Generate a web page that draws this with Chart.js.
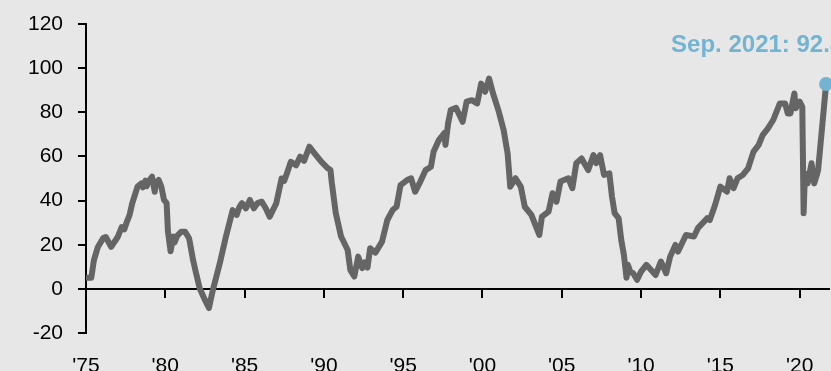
<!DOCTYPE html>
<html>
<head>
<meta charset="utf-8">
<script src="https://cdn.jsdelivr.net/npm/chart.js@4/dist/chart.umd.min.js"></script>
<style>
  html, body { margin: 0; padding: 0; background: #e7e7e7; }
  #wrap { width: 831px; height: 371px; position: relative; }
</style>
</head>
<body>
<div id="wrap"><canvas id="chart" width="831" height="371"></canvas></div>
<script>
// Monthly index readings, 1975 – Sep. 2021
const months = [
  "1975-01","1975-05","1975-07","1975-10","1976-02","1976-04","1976-08","1977-01","1977-04","1977-06",
  "1977-08","1977-10","1977-12","1978-04","1978-07","1978-08","1978-10","1978-11","1978-12","1979-03",
  "1979-05","1979-06","1979-08","1979-10","1979-12","1980-02","1980-03","1980-05","1980-07","1980-08",
  "1980-10","1981-01","1981-04","1981-07","1981-10","1981-12","1982-03","1982-07","1982-10","1983-01",
  "1983-06","1983-11","1984-04","1984-07","1984-09","1984-11","1985-02","1985-05","1985-08","1985-11",
  "1986-02","1986-05","1986-08","1987-01","1987-05","1987-07","1987-09","1987-12","1988-04","1988-07",
  "1988-10","1989-02","1989-05","1989-11","1990-04","1990-06","1990-07","1990-10","1991-02","1991-07",
  "1991-09","1991-12","1992-03","1992-06","1992-08","1992-10","1992-12","1993-04","1993-09","1994-01",
  "1994-05","1994-08","1994-11","1995-04","1995-07","1995-10","1996-02","1996-06","1996-10","1996-12",
  "1997-04","1997-08","1997-09","1997-11","1998-01","1998-05","1998-10","1999-01","1999-05","1999-09",
  "1999-12","2000-03","2000-06","2000-09","2001-01","2001-05","2001-08","2001-10","2002-02","2002-06",
  "2002-09","2003-02","2003-05","2003-08","2003-10","2004-03","2004-06","2004-09","2004-12","2005-06",
  "2005-09","2005-12","2006-04","2006-09","2007-01","2007-03","2007-06","2007-09","2008-01","2008-03",
  "2008-05","2008-08","2008-10","2008-12","2009-02","2009-03","2009-05","2009-07","2009-10","2010-01",
  "2010-05","2010-12","2011-04","2011-08","2011-11","2012-03","2012-05","2012-11","2013-05","2013-08",
  "2014-03","2014-05","2014-09","2015-01","2015-06","2015-08","2015-11","2016-02","2016-06","2016-10",
  "2017-02","2017-06","2017-09","2018-01","2018-05","2018-10","2019-02","2019-04","2019-06","2019-09",
  "2019-10","2020-01","2020-03","2020-04","2020-05","2020-07","2020-10","2020-12","2021-02","2021-03",
  "2021-09"
];
const values = [
  5, 5, 13, 19, 23, 23.5, 19, 23.5, 28, 27,
  30.5, 33.5, 38.8, 46.3, 47.8, 46, 49, 46.5, 48.5, 50.8,
  44, 48, 49.3, 46.3, 40.3, 38.8, 26, 17, 23.7, 21,
  24, 25.9, 25.9, 22.9, 13.1, 7.8, 0.3, -5, -8.7, -0.5,
  11, 24, 35.7, 33.5, 37, 38.8, 36.5, 40.3, 36.5, 39,
  39.5, 36.5, 32.7, 38.8, 50, 49, 52.3, 57.6, 56, 59.9,
  58, 64.4, 62.1, 57.6, 54.6, 53.8, 48, 34.3, 23.7, 17.6,
  8.6, 5.6, 14.6, 9.4, 12, 9.6, 18.4, 16.4, 21.4, 31.2,
  35.7, 37.2, 47, 49.3, 50.1, 44, 48.6, 53.8, 55.3, 62.1,
  67.4, 70.5, 65.2, 75, 81, 82, 75.7, 84.8, 85.5, 84,
  93, 89.3, 95.3, 88.5, 81, 72, 61.4, 46.3, 50.1, 46.3,
  37.2, 33.5, 29, 24.4, 32.7, 35, 43.3, 39.5, 48.6, 50.1,
  45.6, 56.9, 59.1, 53.8, 60.6, 57, 60.6, 51.6, 52.3, 41.8,
  34.3, 32, 22.2, 15.4, 5, 10.9, 7.5, 7.1, 4.1, 7.8,
  10.9, 6.3, 12.4, 7.1, 14.6, 19.9, 16.9, 24.4, 23.7, 27.5,
  32, 31.2, 38, 46.3, 44, 50.1, 45.6, 50.1, 51.6, 54.6,
  62.1, 65.2, 69.7, 72.7, 76.5, 84, 84, 79.5, 79.5, 88.5,
  81.8, 84.8, 82.5, 34.3, 52.3, 47.8, 56.9, 47.8, 51.6, 54,
  92.8
];
const yearTicks = [1975, 1980, 1985, 1990, 1995, 2000, 2005, 2010, 2015, 2020];
const yearLabels = ["'75", "'80", "'85", "'90", "'95", "'00", "'05", "'10", "'15", "'20"];
const valueTicks = [-20, 0, 20, 40, 60, 80, 100, 120];
const monthNames = ["Jan.", "Feb.", "Mar.", "Apr.", "May", "Jun.", "Jul.", "Aug.", "Sep.", "Oct.", "Nov.", "Dec."];

const FONT = '"Liberation Sans", Arial, Helvetica, sans-serif';
const LINE_GREY = '#656565';
const HIGHLIGHT = '#72b4d2';

// "YYYY-MM" -> fractional year on the linear time axis
const toYear = m => {
  const [y, mo] = m.split('-').map(Number);
  return y + (mo - 1) / 12;
};
const points = months.map((m, i) => ({ x: toYear(m), y: values[i] }));
const last = points[points.length - 1];
const [lastYear, lastMonth] = months[months.length - 1].split('-').map(Number);
const lastText = `${monthNames[lastMonth - 1]} ${lastYear}: ${values[values.length - 1].toFixed(1)}`;

const fixedTicks = list => scale => { scale.ticks = list.map(v => ({ value: v })); };
// keep the plot area exactly where the layout padding puts it
const noEdgePadding = size => scale => {
  scale.paddingLeft = scale.paddingRight = scale.paddingTop = scale.paddingBottom = 0;
  if (size) Object.assign(scale, size);
};

// Callout for the most recent reading, placed up and to the left of its marker
const lastLabel = {
  id: 'lastLabel',
  afterDatasetsDraw(chart) {
    const { ctx, scales: { x, y } } = chart;
    const px = x.getPixelForValue(last.x);
    const py = y.getPixelForValue(last.y);
    ctx.save();
    ctx.font = `bold 24px ${FONT}`;
    ctx.fillStyle = HIGHLIGHT;
    ctx.textAlign = 'left';
    ctx.textBaseline = 'alphabetic';
    ctx.fillText(lastText, px - 155, py - 32);
    ctx.restore();
  }
};

Chart.defaults.font.family = FONT;
Chart.defaults.color = '#000';

new Chart(document.getElementById('chart'), {
  type: 'line',
  data: {
    datasets: [
      {
        data: points,
        borderColor: LINE_GREY,
        borderWidth: 6,
        borderJoinStyle: 'round',
        borderCapStyle: 'round',
        pointRadius: 0,
        tension: 0,
        order: 2
      },
      {
        type: 'scatter',
        data: [last],
        pointRadius: 7,
        pointBackgroundColor: HIGHLIGHT,
        pointBorderWidth: 0,
        clip: false,
        order: 1
      }
    ]
  },
  options: {
    responsive: false,
    animation: false,
    events: [],
    layout: { autoPadding: false, padding: { top: 24, right: 2, left: 0, bottom: 0 } },
    plugins: { legend: { display: false }, tooltip: { enabled: false } },
    scales: {
      x: {
        type: 'linear',
        position: 'bottom',
        min: 1975,
        max: 2021.85,
        afterBuildTicks: fixedTicks(yearTicks),
        afterFit: noEdgePadding({ height: 38 }),
        grid: { display: false, drawTicks: false },
        border: { display: false },
        ticks: {
          autoSkip: false,
          maxRotation: 0,
          padding: 21,
          color: '#000',
          font: { size: 21 },
          callback: v => yearLabels[yearTicks.indexOf(v)]
        }
      },
      x0: {
        type: 'linear',
        position: { y: 0 },
        min: 1975,
        max: 2021.85,
        afterBuildTicks: fixedTicks(yearTicks),
        afterFit: noEdgePadding(),
        ticks: { display: false },
        grid: { drawOnChartArea: false, drawTicks: true, tickLength: 8, color: '#000', tickColor: '#000', lineWidth: 2 },
        border: { display: true, color: '#000', width: 2 }
      },
      y: {
        min: -20,
        max: 120,
        afterBuildTicks: fixedTicks(valueTicks),
        afterFit: noEdgePadding({ width: 86 }),
        grid: { drawOnChartArea: false, drawTicks: true, tickLength: 8, color: '#000', tickColor: '#000', lineWidth: 2 },
        border: { display: true, color: '#000', width: 2 },
        ticks: { padding: 15, color: '#000', font: { size: 21 } }
      }
    }
  },
  plugins: [lastLabel]
});
</script>
</body>
</html>
